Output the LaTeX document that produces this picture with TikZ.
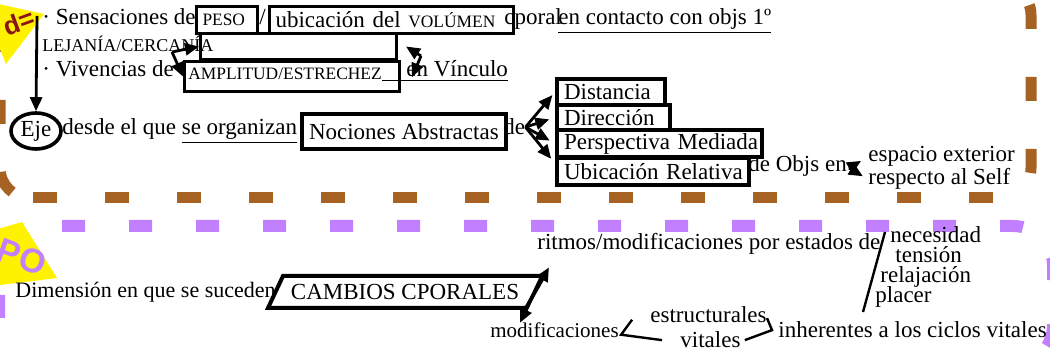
\documentclass[tikz,border=0pt]{standalone}
\usepackage{fontspec}
\setmainfont{Liberation Serif}
\setsansfont{Liberation Sans}
\usetikzlibrary{positioning,arrows.meta,shapes.geometric}
\definecolor{cuero}{HTML}{A66222}
\definecolor{lila}{HTML}{C080FF}
\definecolor{granate}{HTML}{8C1414}
\newcommand{\chica}{\fontsize{8.7}{10}\selectfont}
\begin{document}
\begin{tikzpicture}[x=0.5pt,y=-0.5pt,
texto/.style={anchor=base west,inner sep=0pt,font=\fontsize{11.5}{13}\selectfont},
caja/.style={draw,line width=1.5pt,anchor=north west,inner ysep=0pt,inner xsep=3pt,align=left,font=\fontsize{11.5}{13}\selectfont},
gruesa/.style={caja,line width=2pt,inner xsep=3.5pt},
flecha/.style={-{Triangle[length=7pt,width=6pt]},line width=1.4pt},
raya/.style={line width=1.2pt},
borde/.style={line width=5.5pt,rounded corners=15pt,dash pattern=on 12pt off 24pt},
tira/.style={line width=6pt,rounded corners=20pt,dash pattern=on 11.5pt off 22pt}]
\useasboundingbox (0,0) rectangle (1050,351);
\clip (0,0) rectangle (1050,351);
% dashed frames
\draw[borde,cuero] (0,28) -- (0,198) -- (30,198);
\draw[borde,cuero] (33,198) -- (1000,198);
\draw[borde,cuero,dash phase=12pt] (990,-15) -- (1031,-15) -- (1031,198) -- (1000,198);
\draw[tira,lila] (62,226) -- (1053,226) -- (1053,365) -- (900,365);
\draw[tira,lila] (-1,318) -- (-1,226) -- (50,226);
% yellow labels
\fill[yellow] (-20,0) -- (44,14) -- (6,64) -- cycle;
\draw (19,22) node[granate,font=\sffamily\bfseries\fontsize{13}{13}\selectfont,rotate=20] (mundo) {d=};
\fill[yellow] (22,222) -- (57,278) -- (-40,290) -- (-40,240) -- cycle;
\draw (22,257) node[lila,font=\sffamily\bfseries\fontsize{17}{17}\selectfont,rotate=-20] (tiempo) {PO};

% upper block
\draw (42,25) node[texto] (sens) {· Sensaciones de};
\draw (195,5) node[caja,minimum width=30.5pt,minimum height=13.5pt,text width=24.5pt,font=\chica] (peso) {PESO};
\draw (259,25) node[texto] (barra) {/};
\draw (268,5) node[caja,text width=116pt,minimum height=13.5pt] (volumen) {ubicación del {\chica VOLÚMEN}};
\draw (504,25) node[texto] (corporal) {cporal};
\draw (558,25) node[texto] (contacto) {\underline{en contacto con objs 1º}};
\draw (42,52) node[texto,font=\fontsize{9}{10}\selectfont] (lejania) {LEJANÍA/CERCANÍA};
\draw (199,32) node[caja,minimum width=98pt,minimum height=13pt] (marco) {};
\draw (42,77) node[texto] (viv) {· Vivencias de};
\draw (183,60) node[caja,minimum width=107.5pt,minimum height=15pt] (amplitud) {};
\draw (188,80) node[texto,font=\chica] (ampltxt) {AMPLITUD/ESTRECHEZ};
\draw (382,77) node[texto] (vinculo) {\underline{\hspace{12pt}en Vínculo}};
\coordinate (zigA) at (172,52);
\draw[flecha] (zigA) -- (marco.west);
\draw[flecha] (zigA) -- (amplitud.west);
\coordinate (zigB) at (421,56);
\draw[flecha] (zigB) -- ([xshift=4pt]marco.east);
\draw[flecha] (zigB) -- ([shift={(15pt,-3pt)}]vinculo.west);

\draw (36,131) node[ellipse,draw,line width=1.8pt,minimum width=25pt,minimum height=18pt,inner sep=0pt,font=\fontsize{11.5}{13}\selectfont] (eje) {Eje};
\coordinate (cima) at (37,16);
\draw[flecha] (cima) -- (eje.north);
\draw (62,135) node[texto] (desde) {desde el que \underline{se organizan}};
\draw (300,112) node[gruesa,minimum width=100pt,minimum height=17.5pt,align=center] (nociones) {Nociones Abstractas};
\draw (503,135) node[texto] (de) {de};
\draw (555,77) node[gruesa,text width=47pt,minimum height=13pt] (distancia) {\mbox{Distancia}};
\draw (555,103) node[gruesa,text width=49.5pt,minimum height=12.5pt] (direccion) {\mbox{Dirección}};
\draw (555,128) node[gruesa,text width=95.5pt,minimum height=13.5pt] (perspectiva) {\mbox{Perspectiva Mediada}};
\draw (555,156) node[gruesa,text width=89pt,minimum height=13.5pt] (ubicacion) {\mbox{Ubicación Relativa}};
\draw[flecha,shorten >=2pt] (de.east) -- (distancia.west);
\draw[flecha,shorten >=3pt] (de.east) -- (direccion.west);
\draw[flecha,shorten >=3pt] (de.east) -- (perspectiva.west);
\draw[flecha,shorten >=3pt] (de.east) -- ([yshift=4pt]ubicacion.west);
\draw (748,172) node[texto] (objs) {de Objs en};
\draw (868,162) node[texto] (espacio) {espacio exterior};
\draw (868,185) node[texto] (respecto) {respecto al Self};
\coordinate (zigC) at (849,168);
\draw[flecha,shorten >=4pt] (zigC) -- (espacio.west);
\draw[flecha,shorten >=3pt] (zigC) -- (respecto.west);

% lower block
\draw (15,298) node[texto,font=\fontsize{11}{13}\selectfont] (dimension) {Dimensión en que se suceden};
\draw (405,292) node[inner sep=0pt,font=\fontsize{11.5}{13}\selectfont] (cambios) {CAMBIOS CPORALES};
\coordinate (pT) at (542,276);
\coordinate (pB) at (526,308);
\draw[line width=2pt] (pT) -- (283,276) -- (268,308) -- (pB);
\draw (537,250) node[texto] (ritmos) {ritmos/modificaciones por estados de};
\draw (490,338) node[texto,font=\fontsize{10.5}{12}\selectfont] (modific) {modificaciones};
\draw[flecha,line width=1.8pt] (pB) -- ([shift={(12,12)}]ritmos.south west);
\draw[flecha,line width=1.8pt] (pT) -- ([xshift=15pt]modific.north west);
\draw (890,243) node[texto] (necesidad) {necesidad};
\draw (895,263) node[texto] (tension) {tensión};
\draw (880,283) node[texto] (relajacion) {relajación};
\draw (875,303) node[texto] (placer) {placer};
\coordinate (barraA) at (885,232);
\coordinate (barraB) at (863,312);
\draw[raya] (barraA) -- (barraB);
\draw (650,323) node[texto] (estruct) {estructurales};
\draw (680,348) node[texto] (vitales) {vitales};
\draw (778,338) node[texto] (inherentes) {inherentes a los ciclos vitales};
\draw[raya] ([shift={(13,-11)}]modific.east) -- ([shift={(2,4)}]modific.east) -- ([xshift=-9pt]vitales.west);
\draw[raya] ([shift={(0,3)}]estruct.east) -- ([xshift=-3pt]inherentes.west) -- ([xshift=2pt]vitales.east);
\end{tikzpicture}
\end{document}
